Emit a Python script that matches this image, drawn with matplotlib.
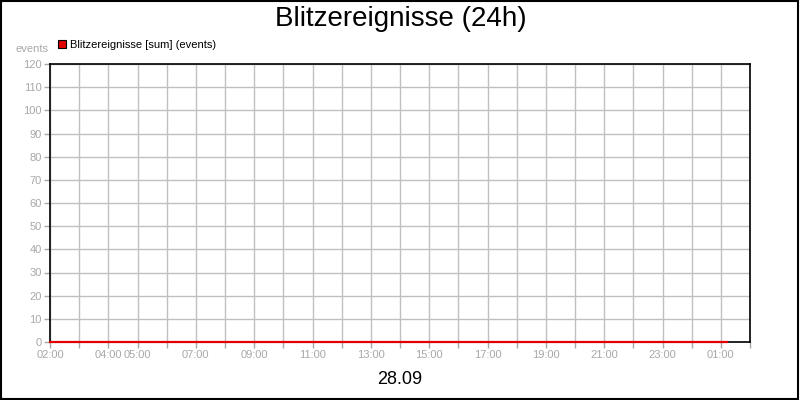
import matplotlib
matplotlib.use('Agg')
import matplotlib.pyplot as plt
import matplotlib.dates as mdates
from matplotlib.patches import Rectangle
import pandas as pd

plt.rcParams['font.family'] = ['Liberation Sans', 'DejaVu Sans']

# Messwerte (Summe der Blitzereignisse), letzter Wert 01:12
zeiten = ['2024-09-28 02:00', '2024-09-28 03:00', '2024-09-28 04:00', '2024-09-28 05:00',
          '2024-09-28 06:00', '2024-09-28 07:00', '2024-09-28 08:00', '2024-09-28 09:00',
          '2024-09-28 10:00', '2024-09-28 11:00', '2024-09-28 12:00', '2024-09-28 13:00',
          '2024-09-28 14:00', '2024-09-28 15:00', '2024-09-28 16:00', '2024-09-28 17:00',
          '2024-09-28 18:00', '2024-09-28 19:00', '2024-09-28 20:00', '2024-09-28 21:00',
          '2024-09-28 22:00', '2024-09-28 23:00', '2024-09-29 00:00', '2024-09-29 01:00',
          '2024-09-29 01:12']
ereignisse = [0, 0, 0, 0, 0, 0, 0, 0, 0, 0, 0, 0,
              0, 0, 0, 0, 0, 0, 0, 0, 0, 0, 0, 0, 0]
x_label_zeiten = ['2024-09-28 02:00', '2024-09-28 04:00', '2024-09-28 05:00',
                  '2024-09-28 07:00', '2024-09-28 09:00', '2024-09-28 11:00',
                  '2024-09-28 13:00', '2024-09-28 15:00', '2024-09-28 17:00',
                  '2024-09-28 19:00', '2024-09-28 21:00', '2024-09-28 23:00',
                  '2024-09-29 01:00']
y_ticks = [0, 10, 20, 30, 40, 50, 60, 70, 80, 90, 100, 110, 120]

grau = '#a8a8a8'
rot = '#e00000'

t = pd.to_datetime(zeiten)

fig = plt.figure(figsize=(8, 4), dpi=100)
ax = fig.add_axes([50/800, 1-342/400, 700/800, 278/400])

ax.plot(t, ereignisse, color=rot, lw=1.6, clip_on=False, zorder=3)

ax.set_xlim(pd.Timestamp('2024-09-28 02:00'), pd.Timestamp('2024-09-29 02:00'))
ax.set_ylim(0, 120)
ax.set_yticks(y_ticks)

ax.set_xticks(pd.to_datetime(x_label_zeiten))
ax.xaxis.set_major_formatter(mdates.DateFormatter('%H:%M'))
ax.xaxis.set_minor_locator(mdates.HourLocator())

ax.grid(True, which='both', color='#c0c0c0', lw=1)
ax.set_axisbelow(True)
ax.tick_params(which='both', color=grau, length=4, width=1, labelsize=8,
               labelcolor=grau, pad=2)

for s in ax.spines.values():
    s.set_color('black')
    s.set_linewidth(1.2)

fig.text(401/800, 1-19/400, 'Blitzereignisse (24h)', fontsize=20,
         ha='center', va='center')
fig.text(400/800, 1-380/400, '28.09', fontsize=13, ha='center', va='center')
fig.text(32/800, 1-49/400, 'events', fontsize=8, color=grau,
         ha='center', va='center')

# Legende
fig.patches.append(Rectangle((58/800, 1-48/400), 8/800, 8/400, transform=fig.transFigure,
                             facecolor=rot, edgecolor='black', lw=0.8))
fig.text(70/800, 1-45/400, 'Blitzereignisse [sum] (events)', fontsize=8,
         ha='left', va='center')

# Rahmen
fig.patches.append(Rectangle((0.001, 0.002), 0.996, 0.996, transform=fig.transFigure,
                             fill=False, edgecolor='black', lw=1.5))

fig.savefig('out.png', dpi=100)
